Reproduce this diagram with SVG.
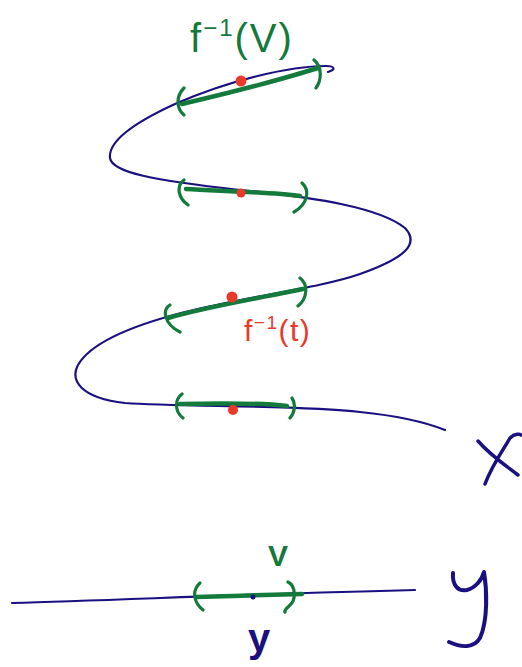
<svg xmlns="http://www.w3.org/2000/svg" width="522" height="667" viewBox="0 0 522 667">
<style>
.blue{fill:none;stroke:#1b1080;stroke-width:2.2;stroke-linecap:round;stroke-linejoin:round}
.gl{fill:none;stroke:#137a3c;stroke-width:4.5;stroke-linecap:round}
.gp{fill:none;stroke:#137a3c;stroke-width:3.2;stroke-linecap:round}
.dot{fill:#e8392b}
.lbl{font-family:"Liberation Sans",Arial,sans-serif}
</style>
<rect width="522" height="667" fill="#ffffff"/>
<g id="space-X">
<path class="blue" d="M328,72 C336,70 335,66 326,66 C290,66 230,80 175,104 C140,120 108,140 110,158 C112,172 150,180 240,190 C320,198 380,208 405,228 C420,244 405,258 360,274 C320,288 250,296 185,312 C130,326 90,344 78,365 C70,380 80,398 125,403 C180,407 300,405 360,412 C400,416 430,424 445,430"/>
<path class="blue" d="M478,441 C490,455 505,465 518,475 M485,484 C492,465 505,447 510,438 C515,433 520,434 521,435" style="stroke-width:3.5"/>
</g>
<g id="space-Y">
<path class="blue" d="M12,603 C120,600 250,594 415,590"/>
<path class="blue" d="M453,573 C452,585 458,592 467,590 C475,588 482,580 484,572 C487,590 488,620 480,638 C474,648 462,648 449,642" style="stroke-width:4"/>
</g>
<g id="preimage-1">
<path class="gl" d="M182,104 C220,95 260,86 318,68"/>
<path class="gp" d="M184,88 C176,96 176,108 184,115 M314,60 C322,66 322,80 316,88"/>
<circle class="dot" cx="241" cy="81" r="5.5"/>
</g>
<g id="preimage-2">
<path class="gl" d="M186,189 C220,191 270,192 300,196"/>
<path class="gp" d="M184,180 C176,186 178,198 188,205 M302,183 C310,190 308,204 294,212"/>
<circle class="dot" cx="241" cy="193" r="4.5"/>
</g>
<g id="preimage-3">
<path class="gl" d="M168,318 C210,306 260,298 303,289"/>
<path class="gp" d="M170,305 C162,310 164,324 180,332 M300,278 C308,284 308,298 298,306"/>
<circle class="dot" cx="232" cy="297" r="5.5"/>
</g>
<g id="preimage-4">
<path class="gl" d="M180,404 C220,403 260,403 287,406"/>
<path class="gp" d="M182,394 C174,400 175,412 183,418 M292,398 C296,404 295,412 290,418"/>
<circle class="dot" cx="233" cy="410" r="5"/>
</g>
<g id="nbhd-V">
<path class="gl" d="M196,597 C230,596 270,595 302,594"/>
<path class="gp" d="M200,583 C192,590 193,602 203,610 M288,582 C296,586 296,600 290,605 C286,609 284,611 285,612"/>
<circle cx="253" cy="597" r="2.5" fill="#1b1080"/>
</g>
<g id="labels">
<text class="lbl" x="190" y="52" font-size="40" fill="#137a3c" letter-spacing="2">f<tspan font-size="24" dy="-16">−1</tspan><tspan dy="16">(V)</tspan></text>
<text class="lbl" x="244" y="341" font-size="30" fill="#e8392b" letter-spacing="1.5">f<tspan font-size="19" dy="-12">−1</tspan><tspan dy="12">(t)</tspan></text>
<text class="lbl" x="268" y="566" font-size="30" font-weight="bold" fill="#137a3c">V</text>
<text class="lbl" x="248" y="652" font-size="40" font-weight="bold" fill="#1b1080">y</text>
</g>
</svg>
